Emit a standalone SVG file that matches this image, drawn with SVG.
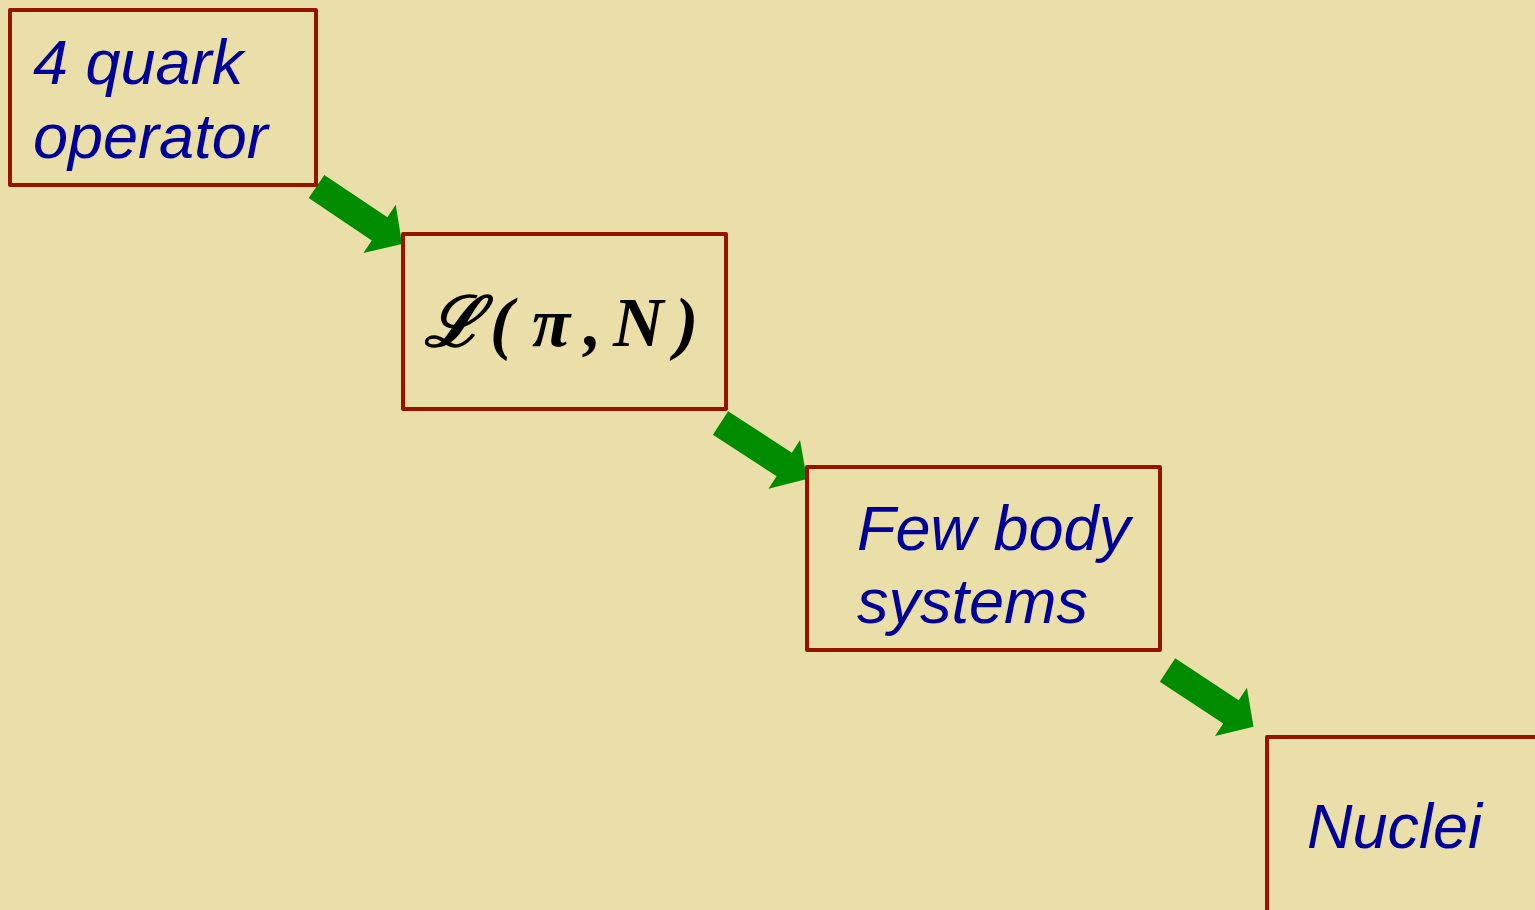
<svg xmlns="http://www.w3.org/2000/svg" width="1535" height="910" viewBox="0 0 1535 910">
<style>
.box{fill:none;stroke:#951400;stroke-width:4;stroke-linejoin:round}
.lbl{font-family:"Liberation Sans",Arial,sans-serif;font-style:italic;font-size:63px;fill:#000099}
.math{font-family:"Liberation Serif","Times New Roman",serif;font-style:italic;font-weight:bold;font-size:70px;fill:#000}
.arr{fill:#008C00}
</style>
<defs>
<path id="arrow" d="M0,-14 L76,-14 L76,-29 L103,0 L76,29 L76,14 L0,14 Z"/>
</defs>
<rect width="1535" height="910" fill="#EADFA8"/>
<g id="connectors" class="arr">
<use href="#arrow" transform="translate(316.5,186.5) rotate(33.9)"/>
<use href="#arrow" transform="translate(720.5,423) rotate(33)"/>
<use href="#arrow" transform="translate(1167.5,670) rotate(33.4)"/>
</g>
<g id="node-quark">
<rect class="box" x="10" y="10" width="306" height="175"/>
<text class="lbl" x="33" y="84">4 quark</text>
<text class="lbl" x="33" y="158">operator</text>
</g>
<g id="node-lagrangian">
<rect class="box" x="403" y="234" width="323" height="175"/>
<text class="math" y="346"><tspan x="424" font-family="DejaVu Serif, serif">ℒ</tspan><tspan x="490">(</tspan><tspan x="532">π</tspan><tspan x="584">,</tspan><tspan x="613">N</tspan><tspan x="675">)</tspan></text>
</g>
<g id="node-few-body">
<rect class="box" x="807" y="467" width="353" height="183"/>
<text class="lbl" x="857" y="550">Few body</text>
<text class="lbl" x="857" y="623">systems</text>
</g>
<g id="node-nuclei">
<rect class="box" x="1267" y="737" width="275" height="180"/>
<text class="lbl" x="1307" y="848">Nuclei</text>
</g>
</svg>
